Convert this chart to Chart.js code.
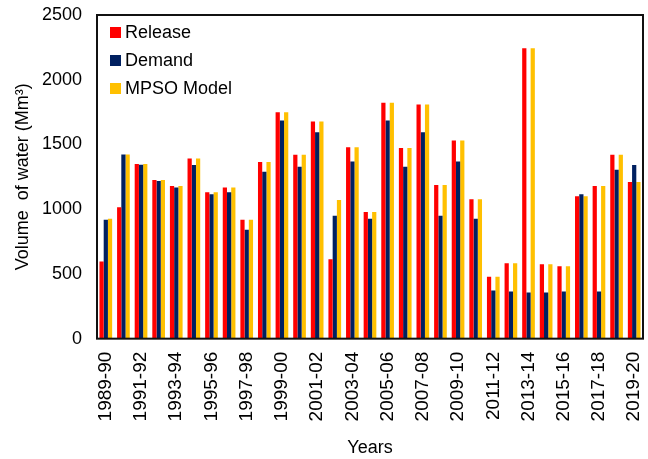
<!DOCTYPE html>
<html>
<head>
<meta charset="utf-8">
<script src="https://cdn.jsdelivr.net/npm/chart.js@4/dist/chart.umd.min.js"></script>
<style>
  html, body { margin: 0; padding: 0; background: #fff; }
  #wrap { width: 648px; height: 459px; }
</style>
</head>
<body>
<div id="wrap"><canvas id="waterChart" width="648" height="459"></canvas></div>
<script>
// water years
const years = [
    "1989-90", "1990-91", "1991-92", "1992-93", "1993-94", "1994-95", "1995-96", "1996-97",
    "1997-98", "1998-99", "1999-00", "2000-01", "2001-02", "2002-03", "2003-04", "2004-05",
    "2005-06", "2006-07", "2007-08", "2008-09", "2009-10", "2010-11", "2011-12", "2012-13",
    "2013-14", "2014-15", "2015-16", "2016-17", "2017-18", "2018-19", "2019-20"
];

// volumes in Mm3
const release = [
    597, 1015, 1349, 1226, 1179, 1392, 1131, 1167, 918, 1364, 1749, 1421, 1677, 613, 1479, 979,
    1823, 1472, 1808, 1187, 1531, 1077, 479, 582, 2244, 574, 559, 1100, 1179, 1421, 1210
];
const demand = [
    918, 1423, 1344, 1218, 1167, 1341, 1115, 1131, 841, 1290, 1685, 1328, 1595, 949, 1369, 926,
    1685, 1328, 1595, 949, 1369, 926, 372, 364, 356, 356, 364, 1115, 364, 1305, 1341
];
const mpso = [
    926, 1423, 1349, 1226, 1179, 1392, 1131, 1167, 918, 1364, 1749, 1421, 1677, 1072, 1479, 979,
    1823, 1472, 1808, 1187, 1531, 1077, 479, 582, 2244, 574, 559, 1100, 1179, 1421, 1210
];

const yTicks = [0, 500, 1000, 1500, 2000, 2500];

Chart.defaults.font.family = "'Liberation Sans', Arial, sans-serif";
Chart.defaults.font.size = 18;
Chart.defaults.color = "#000";

// black box round the plot area + legend drawn inside it (top left)
const frameBox = {
    id: 'frameBox',
    afterDraw(chart) {
        const a = chart.chartArea;
        const c = chart.ctx;
        c.save();
        c.strokeStyle = "#111";
        c.lineWidth = 2;
        c.strokeRect(a.left, a.top, a.right - a.left, a.bottom - a.top);

        c.font = "18px 'Liberation Sans', Arial, sans-serif";
        c.textBaseline = 'middle';
        c.textAlign = 'left';
        chart.data.datasets.forEach((ds, i) => {
            const y = a.top + 12 + i * 28;
            c.fillStyle = ds.backgroundColor;
            c.fillRect(a.left + 13, y, 11, 11);
            c.fillStyle = "#000";
            c.fillText(ds.label, a.left + 28, y + 6);
        });
        c.restore();
    }
};

const ctx = document.getElementById('waterChart').getContext('2d');
const waterChart = new Chart(ctx, {
    type: 'bar',
    data: {
        labels: years,
        datasets: [
            { label: "Release", data: release, backgroundColor: "#FF0000" },
            { label: "Demand", data: demand, backgroundColor: "#002060" },
            { label: "MPSO Model", data: mpso, backgroundColor: "#FFC000" }
        ]
    },
    options: {
        responsive: false,
        animation: false,
        datasets: {
            bar: { categoryPercentage: 0.72, barPercentage: 1.0 }
        },
        layout: {
            padding: { top: 15, right: 5, left: 0, bottom: 0 }
        },
        scales: {
            x: {
                grid: { display: false, drawTicks: false },
                border: { display: false },
                afterFit: function(axis) {
                    axis.paddingLeft = 0;
                    axis.paddingRight = 0;
                },
                ticks: {
                    autoSkip: false,
                    maxRotation: 90,
                    minRotation: 90,
                    padding: 13,
                    font: { size: 19 },
                    callback: function(val, i) {
                        return i % 2 === 0 ? years[i] : '';
                    }
                },
                title: {
                    display: true,
                    text: "Years",
                    padding: { top: 3, bottom: 0 }
                }
            },
            y: {
                min: 0,
                max: 2500,
                afterBuildTicks: function(axis) {
                    axis.ticks = yTicks.map(v => ({ value: v }));
                },
                afterFit: function(axis) {
                    axis.width = 97;
                    axis.paddingTop = 0;
                    axis.paddingBottom = 0;
                },
                grid: { display: false, drawTicks: false },
                border: { display: false },
                ticks: {
                    padding: 15,
                    callback: v => String(v)
                },
                title: {
                    display: true,
                    text: "Volume  of water (Mm\u00B3)",
                    padding: { top: 12, bottom: 8 }
                }
            }
        },
        plugins: {
            legend: { display: false },
            tooltip: { enabled: false }
        }
    },
    plugins: [frameBox]
});
</script>
</body>
</html>
